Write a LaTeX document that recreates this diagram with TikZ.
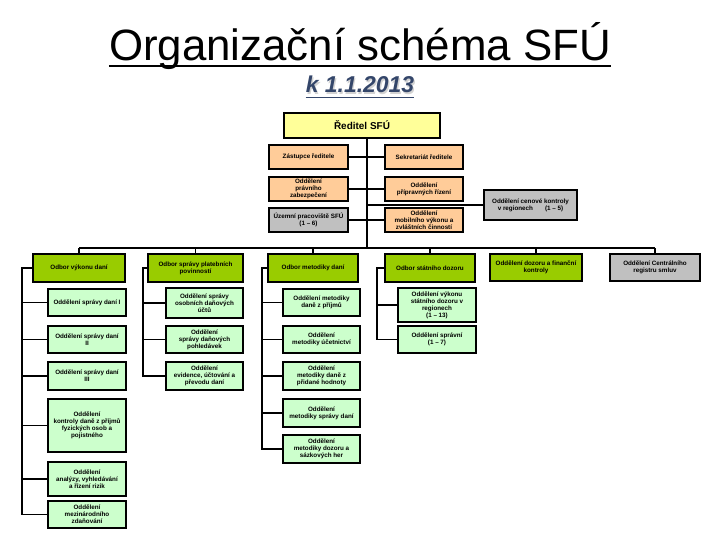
\documentclass[tikz,border=0pt]{standalone}
\usepackage{fontspec}
\setmainfont{Liberation Sans}
\definecolor{peach}{HTML}{FFCC99}
\definecolor{yel}{HTML}{FFFF99}
\definecolor{gry}{HTML}{C0C0C0}
\definecolor{grn}{HTML}{99CC00}
\definecolor{lgrn}{HTML}{CCFFCC}
\definecolor{subt}{HTML}{34466A}
\newcommand{\bx}[7]{\node[#6, minimum width={(#4-#2)*1bp}, minimum height={(#5-#3)*1bp}] (#1) at ({(#2+#4)/2},{(#3+#5)/2}) {#7};}
\tikzset{
  box/.style={draw=black, line width=1.3bp, inner sep=0pt, align=center, font=\fontsize{6.3}{7.1}\selectfont\bfseries},
  topb/.style={box, fill=peach},
  dirb/.style={box, fill=yel, font=\fontsize{10}{12}\selectfont\bfseries},
  grayb/.style={box, fill=gry},
  odb/.style={box, fill=grn},
  sub/.style={box, fill=lgrn},
  conn/.style={draw=black, line width=1.7bp},
}
\begin{document}
\begin{tikzpicture}[x=1bp,y=-1bp]
\fill[white] (0,0) rectangle (720,540);
\useasboundingbox (0,0) rectangle (720,540);
% title
\node[inner sep=0pt, anchor=base, font=\fontsize{44}{50}\selectfont] (title) at (360,61) {Organizační schéma SFÚ};
\draw[line width=2bp] ([yshift=-5.5bp]title.base west) -- ([yshift=-5.5bp]title.base east);
\node[inner sep=0pt, anchor=base, text=gry!70, font=\fontsize{23}{26}\selectfont\bfseries\itshape] (subsh) at (361.2,94.2) {k 1.1.2013};
\node[inner sep=0pt, anchor=base, text=subt, font=\fontsize{23}{26}\selectfont\bfseries\itshape] (subtitle) at (360,93) {k 1.1.2013};
\draw[subt, line width=1.3bp] ([yshift=-4.5bp]subtitle.base west) -- ([yshift=-4.5bp]subtitle.base east);
% top level
\bx{red}{284}{113}{440}{138}{dirb}{Ředitel SFÚ}
\bx{zast}{269}{145}{348}{169}{topb}{Zástupce ředitele}
\bx{sekr}{385}{145}{463}{169}{topb}{Sekretariát ředitele}
\bx{prav}{269}{177}{348}{201}{topb}{Oddělení\\právního\\zabezpečení}
\bx{prip}{385}{177}{463}{201}{topb}{Oddělení\\přípravných řízení}
\bx{uzem}{269}{208}{348}{232}{grayb}{Územní pracoviště SFÚ\\(1 -- 6)}
\bx{mob}{385}{208}{463}{232}{topb}{Oddělení\\mobilního výkonu a\\zvláštních činností}
\bx{ceno}{484}{190}{577}{220}{grayb}{Oddělení cenové kontroly\\v regionech\hspace{12bp}(1 -- 5)}
% second level
\bx{A}{33}{254}{125}{282}{odb}{Odbor výkonu daní}
\bx{B}{148}{254}{243}{282}{odb}{Odbor správy platebních\\povinností}
\bx{C}{268}{254}{358}{282}{odb}{Odbor metodiky daní}
\bx{D}{385}{254}{475}{282}{odb}{Odbor státního dozoru}
\bx{E}{490}{254}{582}{281}{odb}{Oddělení dozoru a finanční\\kontroly}
\bx{F}{610}{254}{700}{281}{grayb}{Oddělení Centrálního\\registru smluv}
% column A
\bx{a1}{48}{289}{126}{316}{sub}{Oddělení správy daní I}
\bx{a2}{48}{326}{126}{353}{sub}{Oddělení správy daní\\II}
\bx{a3}{48}{362}{126}{390}{sub}{Oddělení správy daní\\III}
\bx{a4}{48}{399}{126}{452}{sub}{Oddělení\\kontroly daně z příjmů\\fyzických osob a\\pojistného}
\bx{a5}{48}{462}{126}{496}{sub}{Oddělení\\analýzy, vyhledávání\\a řízení rizik}
\bx{a6}{48}{501}{126}{528}{sub}{Oddělení\\mezinárodního\\zdaňování}
% column B
\bx{b1}{166}{288}{243}{318}{sub}{Oddělení správy\\osobních daňových\\účtů}
\bx{b2}{166}{326}{243}{353}{sub}{Oddělení\\správy daňových\\pohledávek}
\bx{b3}{166}{362}{243}{390}{sub}{Oddělení\\evidence, účtování a\\převodu daní}
% column C
\bx{c1}{283}{289}{360}{316}{sub}{Oddělení metodiky\\daně z příjmů}
\bx{c2}{283}{326}{360}{353}{sub}{Oddělení\\metodiky účetnictví}
\bx{c3}{283}{362}{360}{390}{sub}{Oddělení\\metodiky daně z\\přidané hodnoty}
\bx{c4}{283}{399}{360}{427}{sub}{Oddělení\\metodiky správy daní}
\bx{c5}{283}{435}{360}{463}{sub}{Oddělení\\metodiky dozoru a\\sázkových her}
% column D
\bx{d1}{398}{288}{476}{322}{sub}{Oddělení výkonu\\státního dozoru v\\regionech\\(1 -- 13)}
\bx{d2}{398}{326}{476}{353}{sub}{Oddělení správní\\(1 -- 7)}
% connectors top
\coordinate (sp) at (367,138);
\coordinate (bus) at (0,248);
\draw[conn] (sp) -- (sp |- bus);
\draw[conn] (zast.east) -- (sekr.west);
\draw[conn] (prav.east) -- (prip.west);
\draw[conn] (uzem.east) -- (mob.west);
\draw[conn] (ceno.west -| sp) -- (ceno.west);
\draw[conn] (A.north |- bus) -- (F.north |- bus);
\foreach \n in {A,B,C,D,E,F} \draw[conn] (\n.north) -- (\n.north |- bus);
% columns
\coordinate (cA) at (22,0);
\coordinate (cB) at (143,0);
\coordinate (cC) at (262,0);
\coordinate (cD) at (377,0);
\draw[conn] (A.west) -| (cA |- a6.west) -- (a6.west);
\foreach \n in {a1,a2,a3,a4,a5} \draw[conn] (cA |- \n.west) -- (\n.west);
\draw[conn] (B.west) -| (cB |- b3.west) -- (b3.west);
\foreach \n in {b1,b2} \draw[conn] (cB |- \n.west) -- (\n.west);
\draw[conn] (C.west) -| (cC |- c5.west) -- (c5.west);
\foreach \n in {c1,c2,c3,c4} \draw[conn] (cC |- \n.west) -- (\n.west);
\draw[conn] (D.west) -| (cD |- d2.west) -- (d2.west);
\draw[conn] (cD |- d1.west) -- (d1.west);
\end{tikzpicture}
\end{document}
